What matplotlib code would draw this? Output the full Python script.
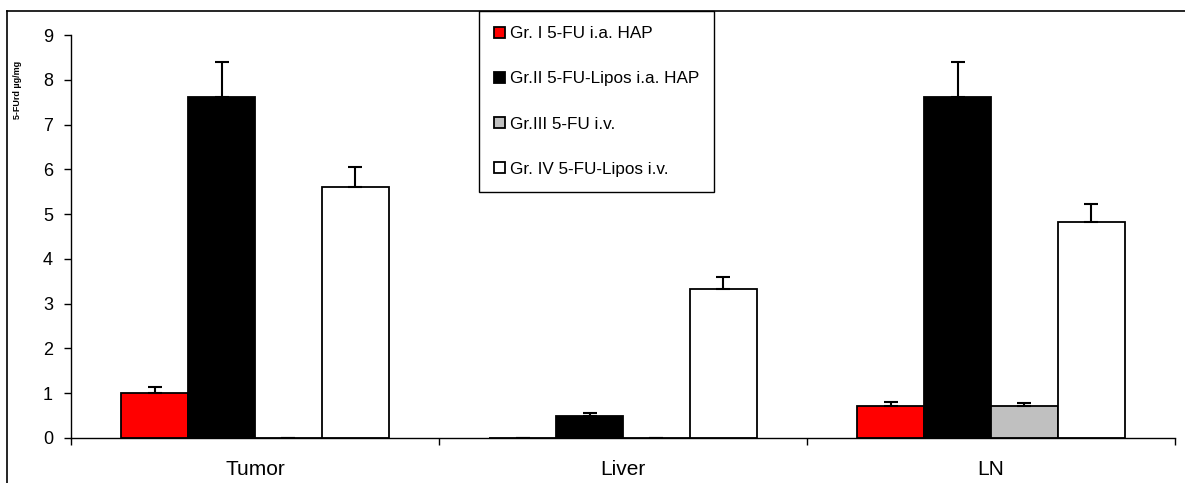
import matplotlib
matplotlib.use("Agg")
import matplotlib.pyplot as plt
import numpy as np
from matplotlib.lines import Line2D

plt.rcParams['font.family'] = ['Liberation Sans', 'DejaVu Sans']

categories = ["Tumor", "Liver", "LN"]
series_labels = ["Gr. I 5-FU i.a. HAP", "Gr.II 5-FU-Lipos i.a. HAP",
                 "Gr.III 5-FU i.v.", "Gr. IV 5-FU-Lipos i.v."]
gr1 = [1.0, 0.0, 0.72]
gr2 = [7.62, 0.50, 7.62]
gr3 = [0.0, 0.0, 0.72]
gr4 = [5.60, 3.32, 4.82]
gr1_err = [0.15, 0.0, 0.09]
gr2_err = [0.78, 0.05, 0.78]
gr3_err = [0.0, 0.0, 0.06]
gr4_err = [0.45, 0.28, 0.40]
yticks = [0, 1, 2, 3, 4, 5, 6, 7, 8, 9]
ylabel = "5-FUrd µg/mg"

values = [gr1, gr2, gr3, gr4]
errors = [gr1_err, gr2_err, gr3_err, gr4_err]
colors = ["#ff0000", "#000000", "#c0c0c0", "#ffffff"]

W, H = 1185, 483
fig = plt.figure(figsize=(W / 100, H / 100), dpi=100)
ax = fig.add_axes([71 / W, 1 - 438 / H, (1175 - 71) / W, (438 - 35) / H])

n = len(values)
bw = 1 / (n + 1.5)
x = np.arange(len(categories))
for i, (v, e, c) in enumerate(zip(values, errors, colors)):
    pos = x - n * bw / 2 + (i + 0.5) * bw
    ax.bar(pos, v, width=bw, color=c, edgecolor="black", linewidth=1.3,
           label=series_labels[i], zorder=2)
    ax.errorbar(pos, v, yerr=[np.zeros(len(e)), e], fmt="none", ecolor="black",
                elinewidth=1.5, capsize=4.7, capthick=1.5, zorder=3)

ax.set_xlim(-0.5, len(categories) - 0.5)
ax.set_ylim(0, 9)
ax.set_yticks(yticks)
ax.set_yticklabels([str(t) for t in yticks], fontsize=13)
ax.set_xticks(x)
ax.set_xticklabels(categories, fontsize=15)
ax.set_xticks(np.arange(len(categories) + 1) - 0.5, minor=True)
ax.tick_params(axis="x", which="major", length=0, pad=16)
ax.tick_params(axis="x", which="minor", length=5, direction="out", width=1)
ax.tick_params(axis="y", length=5, direction="out", width=1, pad=8)
for s in ["top", "right"]:
    ax.spines[s].set_visible(False)
ax.spines["left"].set_linewidth(1)
ax.spines["bottom"].set_linewidth(1)

fig.text(18 / W, 1 - 90 / H, ylabel, rotation=90, fontsize=6.5,
         fontweight="bold", ha="center", va="center")

# figure frame (left and top edges)
fig.add_artist(Line2D([7 / W, 7 / W], [0, 1 - 11 / H], transform=fig.transFigure,
                      color="black", linewidth=1.2))
fig.add_artist(Line2D([7 / W, 1], [1 - 11 / H, 1 - 11 / H], transform=fig.transFigure,
                      color="black", linewidth=1.2))

leg = ax.legend(loc="upper left", bbox_to_anchor=(479 / W, 1 - 11 / H),
                bbox_transform=fig.transFigure, fontsize=12.3, frameon=True,
                fancybox=False, edgecolor="black", framealpha=1,
                handlelength=0.6, handleheight=0.6, handletextpad=0.3,
                labelspacing=1.76, borderpad=0.9, borderaxespad=0)
leg.get_frame().set_linewidth(1)

fig.savefig("out.png", dpi=100)
